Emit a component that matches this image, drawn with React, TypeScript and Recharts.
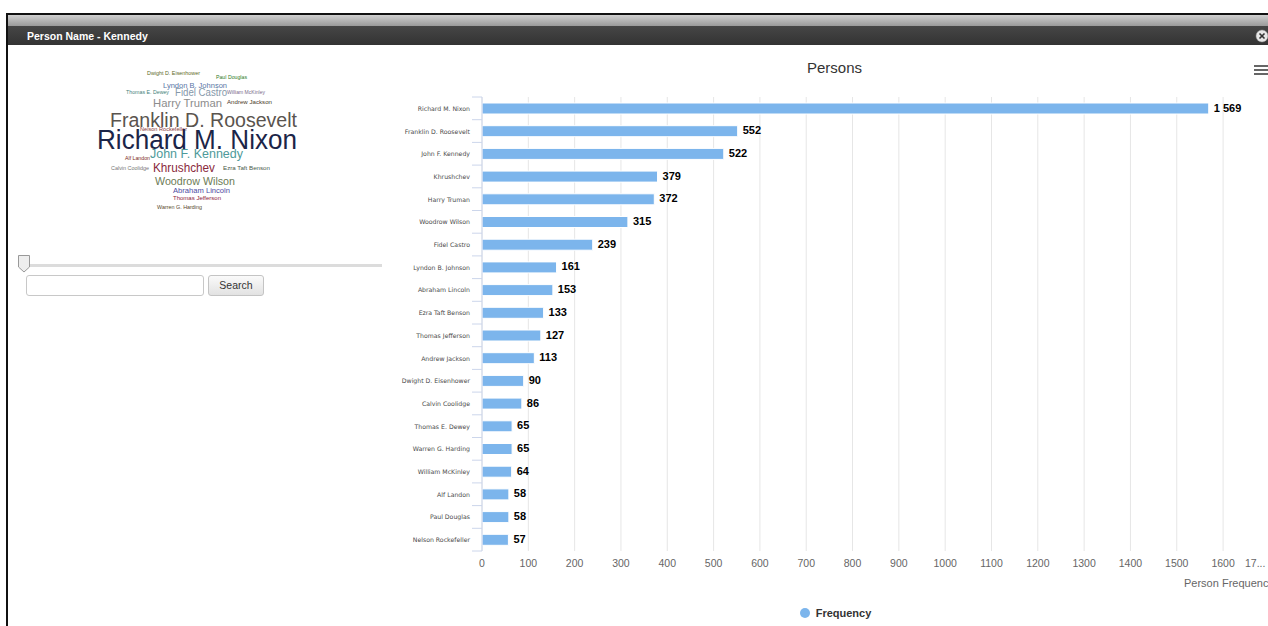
import React from 'react';
import { BarChart, Bar, XAxis, YAxis, CartesianGrid, LabelList } from 'recharts';

// ---------- data ----------
const CATEGORIES = [
  'Richard M. Nixon', 'Franklin D. Roosevelt', 'John F. Kennedy', 'Khrushchev', 'Harry Truman',
  'Woodrow Wilson', 'Fidel Castro', 'Lyndon B. Johnson', 'Abraham Lincoln', 'Ezra Taft Benson',
  'Thomas Jefferson', 'Andrew Jackson', 'Dwight D. Eisenhower', 'Calvin Coolidge', 'Thomas E. Dewey',
  'Warren G. Harding', 'William McKinley', 'Alf Landon', 'Paul Douglas', 'Nelson Rockefeller',
];
const FREQUENCY = [1569, 552, 522, 379, 372, 315, 239, 161, 153, 133, 127, 113, 90, 86, 65, 65, 64, 58, 58, 57];
const X_TICKS = [0, 100, 200, 300, 400, 500, 600, 700, 800, 900, 1000, 1100, 1200, 1300, 1400, 1500, 1600, 1700];
const CHART_TITLE = 'Persons';
const SERIES_NAME = 'Frequency';
const X_AXIS_TITLE = 'Person Frequency';
const WINDOW_TITLE = 'Person Name - Kennedy';

// word cloud labels (same names), layout kept separate
const CLOUD_WORDS = [
  'Dwight D. Eisenhower', 'Paul Douglas', 'Lyndon B. Johnson', 'Thomas E. Dewey', 'Fidel Castro',
  'William McKinley', 'Harry Truman', 'Andrew Jackson', 'Franklin D. Roosevelt', 'Nelson Rockefeller',
  'Richard M. Nixon', 'John F. Kennedy', 'Alf Landon', 'Calvin Coolidge', 'Khrushchev',
  'Ezra Taft Benson', 'Woodrow Wilson', 'Abraham Lincoln', 'Thomas Jefferson', 'Warren G. Harding',
];

const CLOUD_LAYOUT: Record<string, { x: number; y: number; s: number; w: number; c: string }> = {
  'Dwight D. Eisenhower': { x: 147, y: 73, s: 5.6, w: 53, c: '#5c6b1f' },
  'Paul Douglas': { x: 216, y: 77, s: 5.3, w: 31, c: '#2f7a1f' },
  'Lyndon B. Johnson': { x: 163, y: 85, s: 7.5, w: 64, c: '#5876a6' },
  'Thomas E. Dewey': { x: 126, y: 92, s: 5.6, w: 43, c: '#3f7f7a' },
  'Fidel Castro': { x: 175, y: 92, s: 10, w: 52, c: '#8598aa' },
  'William McKinley': { x: 227, y: 92, s: 5, w: 38, c: '#7a6a8a' },
  'Harry Truman': { x: 153, y: 103, s: 11.5, w: 69, c: '#8c8c8c' },
  'Andrew Jackson': { x: 227, y: 102, s: 5.5, w: 45, c: '#4a3a2a' },
  'Franklin D. Roosevelt': { x: 110, y: 120, s: 19.6, w: 187, c: '#5a544e' },
  'Nelson Rockefeller': { x: 140, y: 129, s: 5.4, w: 47, c: '#8a3a3a' },
  'Richard M. Nixon': { x: 97, y: 140, s: 27, w: 200, c: '#1b2548' },
  'John F. Kennedy': { x: 150, y: 153, s: 13, w: 93, c: '#4e9a9a' },
  'Alf Landon': { x: 125, y: 158, s: 5.5, w: 25, c: '#7a2a1a' },
  'Calvin Coolidge': { x: 111, y: 168, s: 5.3, w: 38, c: '#777777' },
  'Khrushchev': { x: 153, y: 168, s: 12, w: 62, c: '#8a2a3c' },
  'Ezra Taft Benson': { x: 223, y: 168, s: 5.6, w: 47, c: '#4a5a4a' },
  'Woodrow Wilson': { x: 155, y: 181, s: 11, w: 80, c: '#6c7b55' },
  'Abraham Lincoln': { x: 173, y: 190, s: 7.8, w: 57, c: '#4b4ba2' },
  'Thomas Jefferson': { x: 173, y: 198, s: 6, w: 48, c: '#8c1c3c' },
  'Warren G. Harding': { x: 157, y: 207, s: 5.4, w: 45, c: '#5a4a2a' },
};

const DATA = CATEGORIES.map((name, i) => ({ name, value: FREQUENCY[i] }));

// ---------- layout ----------
const FONT = '"Liberation Sans", Arial, sans-serif';
const CHART_W = 900;
const CHART_H = 570;
const MARGIN = { top: 42, right: 10.6, bottom: 44, left: 0 };
const X_AXIS_H = 30;
const PLOT_H = CHART_H - MARGIN.top - MARGIN.bottom - X_AXIS_H;
const STEP = PLOT_H / CATEGORIES.length;
const BAR_COLOR = '#7cb5ec';

const fmt = (v: number) => {
  const s = String(v);
  return v >= 1000 ? s.slice(0, s.length - 3) + ' ' + s.slice(-3) : s;
};

const YTick = (props: any) => {
  const { x, y, payload, index } = props;
  const last = index === CATEGORIES.length - 1;
  return (
    <g>
      <line x1={x} x2={x - 10} y1={y - STEP / 2} y2={y - STEP / 2} stroke="#ccd6eb" strokeWidth={1} />
      {last && <line x1={x} x2={x - 10} y1={y + STEP / 2} y2={y + STEP / 2} stroke="#ccd6eb" strokeWidth={1} />}
      <text x={x - 12} y={y} textAnchor="end" dominantBaseline="central" fontSize={6.2} fill="#4a4a4a" fontFamily={'"DejaVu Sans", sans-serif'}>
        {payload.value}
      </text>
    </g>
  );
};

const XTick = (props: any) => {
  const { x, y, payload } = props;
  const isLast = payload.value === 1700;
  return (
    <text
      x={isLast ? x - 4 : x}
      y={y + 12}
      textAnchor={isLast ? 'end' : 'middle'}
      dominantBaseline="central"
      fontSize={10.5}
      fill="#666"
      fontFamily={FONT}
    >
      {isLast ? '17...' : payload.value}
    </text>
  );
};

const DataLabel = (props: any) => {
  const { x, y, width, height, value } = props;
  return (
    <text
      x={x + width + 5}
      y={y + height / 2 - 1}
      dominantBaseline="central"
      fontSize={11}
      fontWeight="bold"
      fill="#000"
      fontFamily={FONT}
    >
      {fmt(value)}
    </text>
  );
};

export default function App() {
  return (
    <div
      style={{
        position: 'absolute', left: 0, top: 0, width: 1268, height: 626, overflow: 'hidden',
        background: '#fff', fontFamily: FONT,
      }}
    >
      {/* window frame */}
      <div style={{ position: 'absolute', left: 6, top: 13, width: 1270, height: 2, background: '#111' }} />
      <div style={{ position: 'absolute', left: 6, top: 13, width: 2, height: 620, background: '#111' }} />
      <div
        style={{
          position: 'absolute', left: 8, top: 15, width: 1270, height: 11,
          background: 'linear-gradient(#cfcfcf, #9a9a9a)',
        }}
      />
      <div
        style={{
          position: 'absolute', left: 8, top: 26, width: 1270, height: 19,
          background: 'linear-gradient(#464646, #333333)',
        }}
      />
      <div
        style={{
          position: 'absolute', left: 27, top: 29, fontSize: 10.5, fontWeight: 'bold', color: '#fff',
          lineHeight: '14px', whiteSpace: 'nowrap',
        }}
      >
        {WINDOW_TITLE}
      </div>
      <svg style={{ position: 'absolute', left: 1254, top: 29 }} width={16} height={16}>
        <circle cx={8} cy={7} r={6} fill="#e6e6e6" stroke="#999" strokeWidth={0.5} />
        <line x1={5.5} y1={4.5} x2={10.5} y2={9.5} stroke="#333" strokeWidth={1.6} />
        <line x1={10.5} y1={4.5} x2={5.5} y2={9.5} stroke="#333" strokeWidth={1.6} />
      </svg>

      {/* word cloud */}
      <svg style={{ position: 'absolute', left: 0, top: 0 }} width={380} height={250}>
        {CLOUD_WORDS.map((w) => {
          const l = CLOUD_LAYOUT[w];
          return (
            <text
              key={w}
              x={l.x}
              y={l.y}
              fontSize={l.s}
              fill={l.c}
              fontFamily={FONT}
              dominantBaseline="central"
              textLength={l.w}
              lengthAdjust="spacingAndGlyphs"
            >
              {w}
            </text>
          );
        })}
      </svg>

      {/* slider */}
      <div style={{ position: 'absolute', left: 18, top: 264, width: 364, height: 3, background: '#dcdcdc' }} />
      <svg style={{ position: 'absolute', left: 17, top: 254 }} width={15} height={20}>
        <path d="M1.5 1.5 H12.5 V13 L7 18 L1.5 13 Z" fill="#eeeeee" stroke="#999" strokeWidth={1} />
      </svg>
      {/* search */}
      <div
        style={{
          position: 'absolute', left: 26, top: 275, width: 176, height: 19, border: '1px solid #c8c8c8',
          borderRadius: 3, background: '#fff',
        }}
      />
      <div
        style={{
          position: 'absolute', left: 208, top: 275, width: 54, height: 19, border: '1px solid #c4c4c4',
          borderRadius: 3, background: 'linear-gradient(#fafafa, #e2e2e2)', fontSize: 10.5, color: '#333',
          textAlign: 'center', lineHeight: '19px',
        }}
      >
        Search
      </div>

      {/* chart title */}
      <div
        style={{
          position: 'absolute', left: 734.5, top: 59, width: 200, textAlign: 'center', fontSize: 15,
          color: '#333', lineHeight: '18px',
        }}
      >
        {CHART_TITLE}
      </div>
      {/* menu icon */}
      <svg style={{ position: 'absolute', left: 1253, top: 63 }} width={16} height={14}>
        <line x1={1} x2={16} y1={3} y2={3} stroke="#666" strokeWidth={2} />
        <line x1={1} x2={16} y1={7} y2={7} stroke="#666" strokeWidth={2} />
        <line x1={1} x2={16} y1={11} y2={11} stroke="#666" strokeWidth={2} />
      </svg>

      {/* chart */}
      <div style={{ position: 'absolute', left: 380, top: 55 }}>
        <BarChart layout="vertical" width={CHART_W} height={CHART_H} data={DATA} margin={MARGIN}>
          <CartesianGrid horizontal={false} stroke="#e6e6e6" />
          <XAxis
            type="number"
            domain={[0, 1700]}
            ticks={X_TICKS}
            interval={0}
            axisLine={false}
            tickLine={false}
            tickSize={0}
            tickMargin={0}
            height={X_AXIS_H}
            tick={<XTick />}
          />
          <YAxis
            type="category"
            dataKey="name"
            width={102}
            axisLine={{ stroke: '#ccd6eb' }}
            tickLine={false}
            tickSize={0}
            tickMargin={0}
            interval={0}
            tick={<YTick />}
          />
          <Bar dataKey="value" name={SERIES_NAME} fill={BAR_COLOR} stroke="#fff" strokeWidth={1} barSize={11} isAnimationActive={false}>
            <LabelList dataKey="value" content={<DataLabel />} />
          </Bar>
        </BarChart>
      </div>

      {/* legend */}
      <div
        style={{
          position: 'absolute', left: 735, top: 606, width: 200, height: 14, display: 'flex',
          justifyContent: 'center', alignItems: 'center',
        }}
      >
        <svg width={12} height={12} style={{ marginRight: 5 }}>
          <circle cx={6} cy={6} r={5} fill={BAR_COLOR} />
        </svg>
        <span style={{ fontSize: 11, fontWeight: 'bold', color: '#333' }}>{SERIES_NAME}</span>
      </div>

      {/* x axis title */}
      <div
        style={{
          position: 'absolute', left: 1184, top: 576, fontSize: 11, color: '#666', whiteSpace: 'nowrap',
          lineHeight: '14px',
        }}
      >
        {X_AXIS_TITLE}
      </div>
    </div>
  );
}
